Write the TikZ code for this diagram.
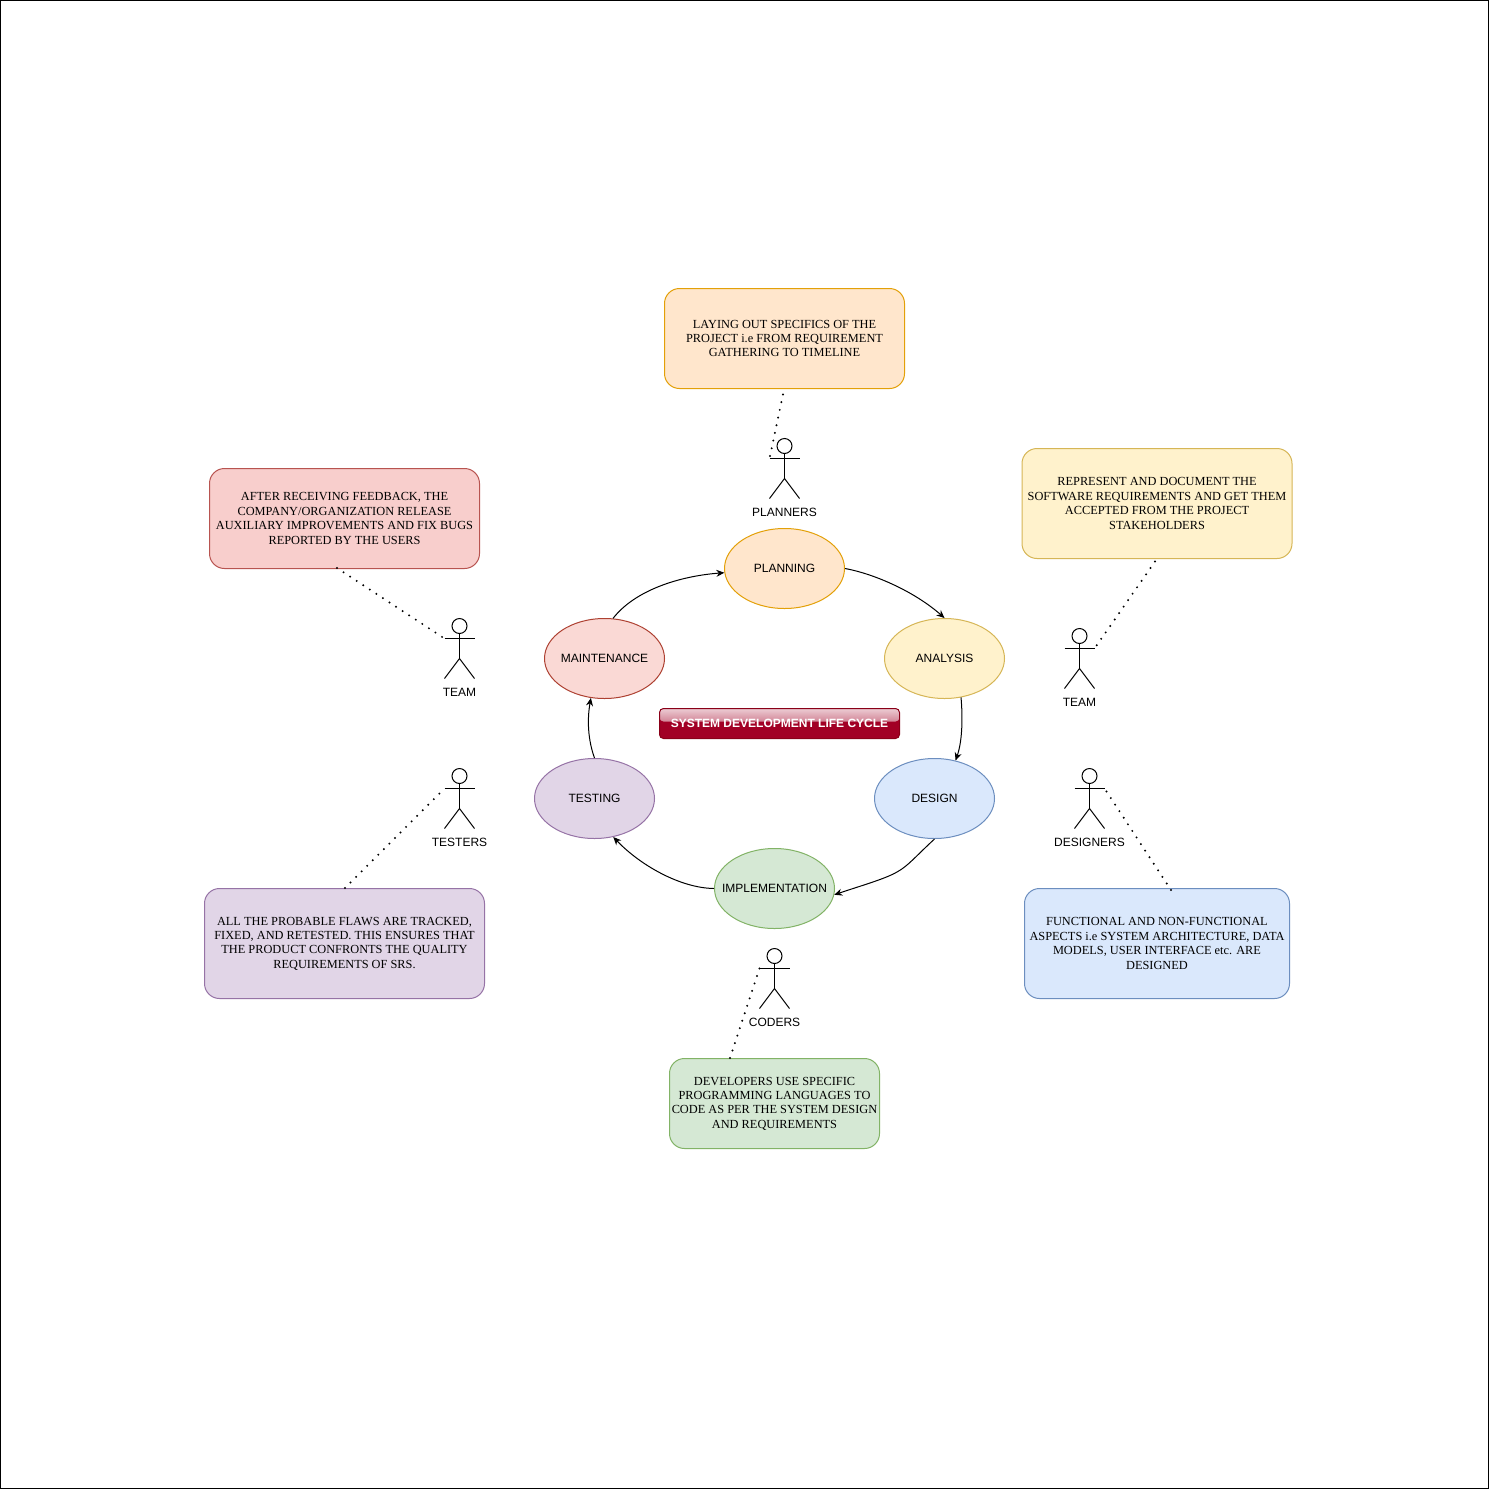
\documentclass[tikz,border=0pt]{standalone}
\usepackage{fontspec}
\setmainfont{Liberation Serif}
\setsansfont{Liberation Sans}
\usetikzlibrary{arrows.meta,shapes.geometric}
\definecolor{orangefill}{HTML}{FFE6CC}\definecolor{orangeline}{HTML}{E3A008}
\definecolor{yellowfill}{HTML}{FFF2CC}\definecolor{yellowline}{HTML}{D6B656}
\definecolor{bluefill}{HTML}{DAE8FC}\definecolor{blueline}{HTML}{6C8EBF}
\definecolor{greenfill}{HTML}{D5E8D4}\definecolor{greenline}{HTML}{82B366}
\definecolor{purplefill}{HTML}{E1D5E7}\definecolor{purpleline}{HTML}{9673A6}
\definecolor{redfill}{HTML}{F8CECC}\definecolor{redline}{HTML}{B85450}
\definecolor{salmonfill}{HTML}{FAD9D5}\definecolor{salmonline}{HTML}{AE4132}
\definecolor{titlefill}{HTML}{A20025}\definecolor{titleline}{HTML}{8A0018}
\tikzset{
  phase/.style={ellipse,draw=#1line,fill=#1fill,minimum width=120pt,minimum height=80pt,
    inner xsep=-30pt,inner ysep=0pt,font=\sffamily\fontsize{12}{14.4}\selectfont,text=black},
  note/.style={rectangle,rounded corners=15pt,draw=#1line,fill=#1fill,inner sep=0pt,align=center,
    font=\fontsize{12.35}{14.4}\selectfont},
  flow/.style={-{Stealth[length=8pt,width=7pt]},black},
  dots/.style={line width=2.2pt,line cap=round,dash pattern=on 0pt off 7.85pt},
  pics/stickman/.style={code={
    \node[circle,draw,minimum size=15pt,inner sep=0pt] (-head) at (0,7.5) {};
    \coordinate (-left) at (-15,20);
    \coordinate (-right) at (15,20);
    \coordinate (-hip) at (0,40);
    \draw (-head.south) -- (-hip);
    \draw (-left) -- (-right);
    \draw (-15,60) -- (-hip) -- (15,60);
    \node[font=\sffamily\fontsize{12}{14.4}\selectfont,text=black] (-label) at (0,73.5) {#1};
  }}
}
\begin{document}
\begin{tikzpicture}[x=1pt,y=-1pt,line width=1pt]
    \useasboundingbox (0,0) rectangle (1489,1489);
    \draw[black,fill=white] (0.5,0.5) rectangle (1488.5,1488.5);

    % cycle
    \node[phase=orange] (planning) at (784.5,568.5) {PLANNING};
    \node[phase=yellow] (analysis) at (944.5,658.5) {ANALYSIS};
    \node[phase=blue] (design) at (934.5,798.5) {DESIGN};
    \node[phase=green] (implementation) at (774.5,888.5) {IMPLEMENTATION};
    \node[phase=purple] (testing) at (594.5,798.5) {TESTING};
    \node[phase=salmon] (maintenance) at (604.5,658.5) {MAINTENANCE};

    \draw[flow] (planning.east) .. controls (875,574) and (915,592) .. (analysis.north);
    \draw[flow] (analysis.-67.5) .. controls (963,720) and (962,742) .. (design.61.5);
    \draw[flow] (design.south) .. controls (915,857) and (908,866) .. (897,872)
                .. controls (885,879) and (860,886) .. (implementation.-6);
    \draw[flow] (implementation.west) .. controls (680,888) and (640,865) .. (testing.-64);
    \draw[flow] (testing.north) .. controls (588,740) and (587,720) .. (maintenance.-109);
    \draw[flow] (maintenance.78) .. controls (635,590) and (680,576) .. (planning.184);

    % title
    \node[rectangle,rounded corners=4pt,draw=titleline,fill=titlefill,minimum width=240pt,minimum height=30pt,
          inner sep=0pt,text=white,font=\sffamily\fontsize{12}{14.4}\selectfont\bfseries,
          path picture={\shade[top color=titlefill!20!white,bottom color=titlefill!85!white]
            (path picture bounding box.north west) rectangle ([yshift=-13pt]path picture bounding box.north east);}]
          (title) at (779.5,723.5) {SYSTEM DEVELOPMENT LIFE CYCLE};

    % notes
    \node[note=orange,minimum width=240pt,minimum height=100pt] (planbox) at (784.5,338.5)
        {LAYING OUT SPECIFICS OF THE\\PROJECT i.e FROM REQUIREMENT\\GATHERING TO TIMELINE};
    \node[note=yellow,minimum width=270pt,minimum height=110pt] (analysisbox) at (1157,503.5)
        {REPRESENT AND DOCUMENT THE\\SOFTWARE REQUIREMENTS AND GET THEM\\ACCEPTED FROM THE PROJECT\\STAKEHOLDERS};
    \node[note=blue,minimum width=265pt,minimum height=110pt] (designbox) at (1157,943.5)
        {FUNCTIONAL AND NON-FUNCTIONAL\\ASPECTS i.e SYSTEM ARCHITECTURE, DATA\\MODELS, USER INTERFACE etc. ARE\\DESIGNED};
    \node[note=green,minimum width=210pt,minimum height=90pt] (codebox) at (774.5,1103.5)
        {DEVELOPERS USE SPECIFIC\\PROGRAMMING LANGUAGES TO\\CODE AS PER THE SYSTEM DESIGN\\AND REQUIREMENTS};
    \node[note=purple,minimum width=280pt,minimum height=110pt] (testbox) at (344.5,943.5)
        {ALL THE PROBABLE FLAWS ARE TRACKED,\\FIXED, AND RETESTED. THIS ENSURES THAT\\THE PRODUCT CONFRONTS THE QUALITY\\REQUIREMENTS OF SRS.};
    \node[note=red,minimum width=270pt,minimum height=100pt] (maintbox) at (344.5,518.5)
        {AFTER RECEIVING FEEDBACK, THE\\COMPANY/ORGANIZATION RELEASE\\AUXILIARY IMPROVEMENTS AND FIX BUGS\\REPORTED BY THE USERS};

    % actors
    \pic (planners) at (784.5,438.5) {stickman={PLANNERS}};
    \pic (analysts) at (1079.5,628.5) {stickman={TEAM}};
    \pic (designers) at (1089.5,768.5) {stickman={DESIGNERS}};
    \pic (coders) at (774.5,948.5) {stickman={CODERS}};
    \pic (testers) at (459.5,768.5) {stickman={TESTERS}};
    \pic (maintainers) at (459.5,618.5) {stickman={TEAM}};

    % dotted links
    \coordinate (planfoot) at (783,394.5);
    \coordinate (analysisfoot) at (1155,561.5);
    \coordinate (designtop) at (1171,890);
    \coordinate (codetop) at (730,1058);
    \coordinate (testtop) at (345,888);
    \coordinate (maintfoot) at (337,568);
    \draw[dots] (planfoot) -- (planners-left);
    \draw[dots] (analysisfoot) -- (analysts-right);
    \draw[dots] (designtop) -- (designers-right);
    \draw[dots] (codetop) -- (coders-left);
    \draw[dots] (testtop) -- (testers-left);
    \draw[dots] (maintfoot) -- (maintainers-left);
\end{tikzpicture}
\end{document}
